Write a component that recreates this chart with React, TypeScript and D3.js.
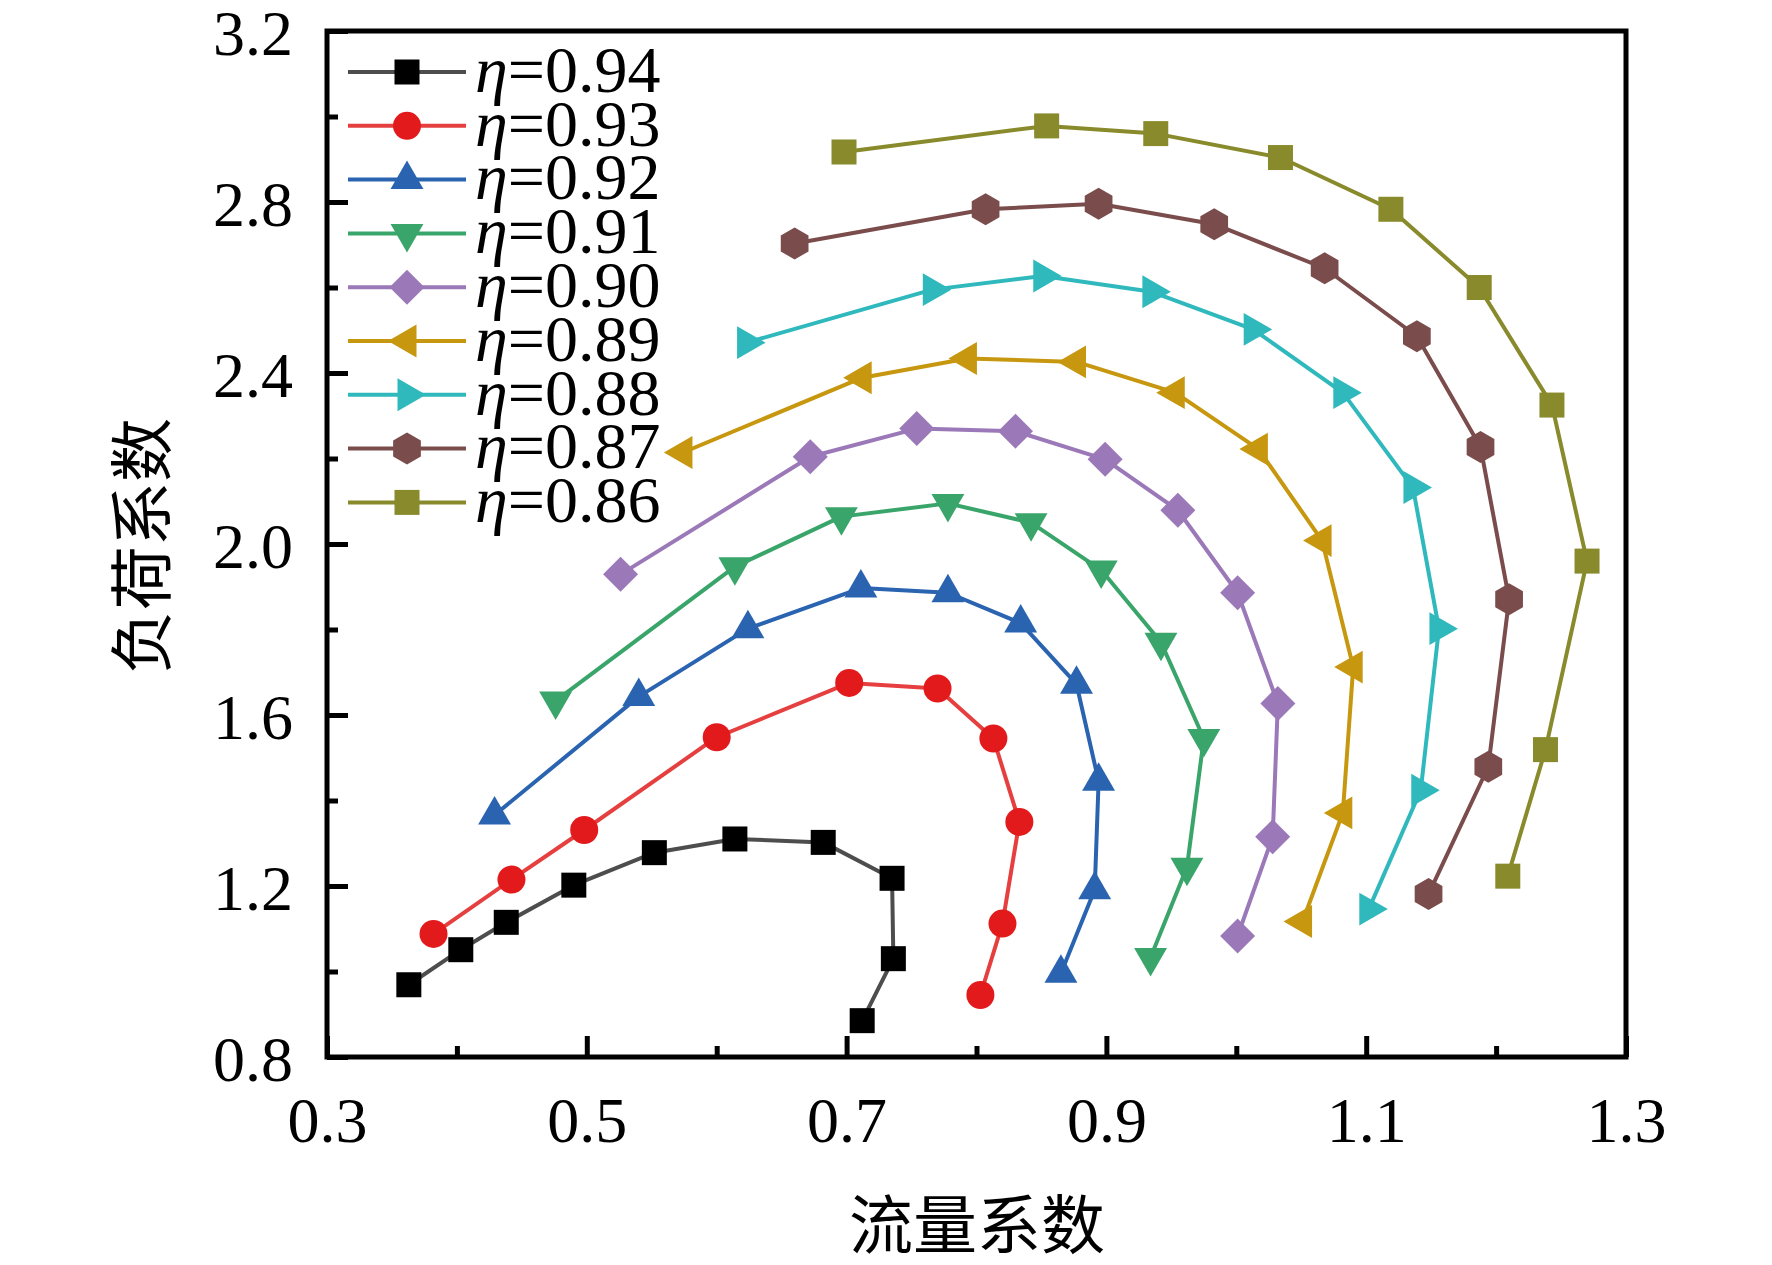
import { useEffect, useRef } from 'react';
import * as d3 from 'd3';

// 流量系数 (x) / 负荷系数 (y) per efficiency contour
const labels = ['0.94', '0.93', '0.92', '0.91', '0.90', '0.89', '0.88', '0.87', '0.86'];

const flow094 = [0.363, 0.403, 0.438, 0.490, 0.552, 0.614, 0.682, 0.735, 0.736, 0.712];
const load094 = [0.969, 1.051, 1.115, 1.202, 1.278, 1.310, 1.302, 1.218, 1.030, 0.885];
const flow093 = [0.382, 0.442, 0.498, 0.600, 0.702, 0.770, 0.813, 0.833, 0.820, 0.803];
const load093 = [1.088, 1.215, 1.331, 1.548, 1.675, 1.662, 1.545, 1.350, 1.112, 0.945];
const flow092 = [0.429, 0.540, 0.624, 0.711, 0.778, 0.834, 0.877, 0.894, 0.891, 0.865];
const load092 = [1.366, 1.643, 1.802, 1.897, 1.886, 1.815, 1.672, 1.445, 1.191, 0.996];
const flow091 = [0.476, 0.614, 0.696, 0.778, 0.842, 0.896, 0.942, 0.975, 0.962, 0.934];
const load091 = [1.633, 1.947, 2.064, 2.095, 2.050, 1.939, 1.770, 1.545, 1.244, 1.033];
const flow090 = [0.526, 0.672, 0.754, 0.830, 0.899, 0.955, 1.001, 1.032, 1.028, 1.001];
const load090 = [1.929, 2.204, 2.270, 2.264, 2.198, 2.079, 1.886, 1.627, 1.315, 1.083];
const flow089 = [0.574, 0.712, 0.793, 0.877, 0.953, 1.017, 1.066, 1.090, 1.082, 1.051];
const load089 = [2.214, 2.389, 2.434, 2.426, 2.354, 2.222, 2.008, 1.712, 1.371, 1.117];
const flow088 = [0.623, 0.766, 0.851, 0.935, 1.013, 1.082, 1.136, 1.156, 1.142, 1.102];
const load088 = [2.471, 2.595, 2.627, 2.590, 2.502, 2.354, 2.132, 1.802, 1.424, 1.146];
const flow087 = [0.660, 0.807, 0.894, 0.983, 1.068, 1.139, 1.188, 1.210, 1.194, 1.148];
const load087 = [2.703, 2.783, 2.796, 2.748, 2.645, 2.486, 2.227, 1.871, 1.479, 1.181];
const flow086 = [0.698, 0.854, 0.938, 1.034, 1.119, 1.187, 1.243, 1.270, 1.238, 1.209];
const load086 = [2.917, 2.978, 2.960, 2.904, 2.783, 2.600, 2.325, 1.960, 1.519, 1.223];

const xTicks = [0.3, 0.5, 0.7, 0.9, 1.1, 1.3];
const yTicks = [0.8, 1.2, 1.6, 2.0, 2.4, 2.8, 3.2];

const MARKER = ['#000000', '#e31a1c', '#2a64b0', '#3aa56a', '#9b79b9', '#c7970f', '#30b9bd', '#7b4c4c', '#888a2b'];
const LINE   = ['#4d4d4d', '#e5403f', '#2a64b0', '#3aa56a', '#9b79b9', '#c7970f', '#30b9bd', '#7b4c4c', '#888a2b'];
const SHAPE  = ['square', 'circle', 'up', 'down', 'diamond', 'left', 'right', 'hexagon', 'square'];

const W = 1772, H = 1265;
const M = { left: 327, right: 1626, top: 31, bottom: 1057 };
const SERIF = '"Liberation Serif", "Times New Roman", serif';
const CJK = '"Noto Sans CJK SC", sans-serif';

function polygon(r: number, n: number, rot: number) {
  const pts: string[] = [];
  for (let i = 0; i < n; i++) {
    const a = rot + (i * 2 * Math.PI) / n;
    pts.push(`${(r * Math.cos(a)).toFixed(2)},${(r * Math.sin(a)).toFixed(2)}`);
  }
  return `M${pts.join('L')}Z`;
}

function markerPath(shape: string) {
  switch (shape) {
    case 'square':  return 'M-12.5,-12.5H12.5V12.5H-12.5Z';
    case 'circle':  return d3.symbol(d3.symbolCircle, Math.PI * 14 * 14)() ?? '';
    case 'up':      return polygon(19, 3, -Math.PI / 2);
    case 'down':    return polygon(19, 3, Math.PI / 2);
    case 'left':    return polygon(19, 3, Math.PI);
    case 'right':   return polygon(19, 3, 0);
    case 'diamond': return polygon(17.5, 4, -Math.PI / 2);
    case 'hexagon': return polygon(16, 6, -Math.PI / 2);
  }
  return '';
}

export default function App() {
  const svgRef = useRef<SVGSVGElement>(null);

  useEffect(() => {
    if (!svgRef.current) return;
    const svg = d3.select(svgRef.current);
    svg.selectAll('*').remove();

    const flows = [flow094, flow093, flow092, flow091, flow090, flow089, flow088, flow087, flow086];
    const loads = [load094, load093, load092, load091, load090, load089, load088, load087, load086];

    const x = d3.scaleLinear().domain([0.3, 1.3]).range([M.left, M.right]);
    const y = d3.scaleLinear().domain([0.8, 3.2]).range([M.bottom, M.top]);

    // frame
    svg.append('rect')
      .attr('x', M.left).attr('y', M.top)
      .attr('width', M.right - M.left).attr('height', M.bottom - M.top)
      .attr('fill', 'none').attr('stroke', '#000').attr('stroke-width', 5);

    // minor ticks
    const xMinor = d3.range(0.4, 1.3, 0.2);
    const yMinor = d3.range(1.0, 3.2, 0.4);
    svg.append('g').attr('transform', `translate(0,${M.bottom})`)
      .call(d3.axisBottom(x).tickValues(xMinor).tickSizeInner(-11).tickSizeOuter(0).tickFormat(() => ''));
    svg.append('g').attr('transform', `translate(${M.left},0)`)
      .call(d3.axisLeft(y).tickValues(yMinor).tickSizeInner(-11).tickSizeOuter(0).tickFormat(() => ''));

    // major ticks
    const gx = svg.append('g').attr('transform', `translate(0,${M.bottom})`)
      .call(d3.axisBottom(x).tickValues(xTicks).tickSizeInner(-21).tickSizeOuter(0).tickPadding(40).tickFormat(d3.format('.1f')));
    const gy = svg.append('g').attr('transform', `translate(${M.left},0)`)
      .call(d3.axisLeft(y).tickValues(yTicks).tickSizeInner(-21).tickSizeOuter(0).tickPadding(34).tickFormat(d3.format('.1f')));

    svg.selectAll('.domain').remove();
    svg.selectAll('.tick line').attr('stroke', '#000').attr('stroke-width', 5);
    [gx, gy].forEach(g => g.selectAll('text')
      .attr('font-family', SERIF).attr('font-size', 64).attr('fill', '#000'));
    gy.selectAll('text').attr('dy', '0.37em');

    // axis titles
    svg.append('text')
      .attr('x', 977).attr('y', 1220).attr('text-anchor', 'middle').attr('dominant-baseline', 'central')
      .attr('font-family', CJK).attr('font-size', 64).attr('fill', '#000').text('流量系数');
    svg.append('text')
      .attr('transform', 'translate(137,546) rotate(-90)')
      .attr('text-anchor', 'middle').attr('dominant-baseline', 'central')
      .attr('font-family', CJK).attr('font-size', 64).attr('fill', '#000').text('负荷系数');

    // series
    const line = d3.line<[number, number]>().x(d => x(d[0])).y(d => y(d[1]));
    labels.forEach((_, i) => {
      const pts = flows[i].map((f, j) => [f, loads[i][j]] as [number, number]);
      const g = svg.append('g');
      g.append('path').attr('d', line(pts) ?? '')
        .attr('fill', 'none').attr('stroke', LINE[i]).attr('stroke-width', 4).attr('stroke-linejoin', 'round');
      g.selectAll('path.m').data(pts).enter().append('path')
        .attr('class', 'm')
        .attr('d', markerPath(SHAPE[i]))
        .attr('transform', d => `translate(${x(d[0])},${y(d[1])})`)
        .attr('fill', MARKER[i]);
    });

    // legend
    const lg = svg.append('g');
    labels.forEach((lab, i) => {
      const cy = 72 + i * 53.8;
      lg.append('line').attr('x1', 348).attr('x2', 466).attr('y1', cy).attr('y2', cy)
        .attr('stroke', LINE[i]).attr('stroke-width', 4);
      lg.append('path').attr('d', markerPath(SHAPE[i]))
        .attr('transform', `translate(407,${cy})`).attr('fill', MARKER[i]);
      const t = lg.append('text').attr('x', 475).attr('y', cy).attr('dy', '0.3em')
        .attr('font-family', SERIF).attr('font-size', 66).attr('fill', '#000');
      t.append('tspan').attr('font-style', 'italic').text('η');
      t.append('tspan').text(`=${lab}`);
    });
  }, []);

  return (
    <svg
      ref={svgRef}
      width={W}
      height={H}
      style={{ position: 'absolute', left: 0, top: 0, background: '#fff' }}
    />
  );
}
